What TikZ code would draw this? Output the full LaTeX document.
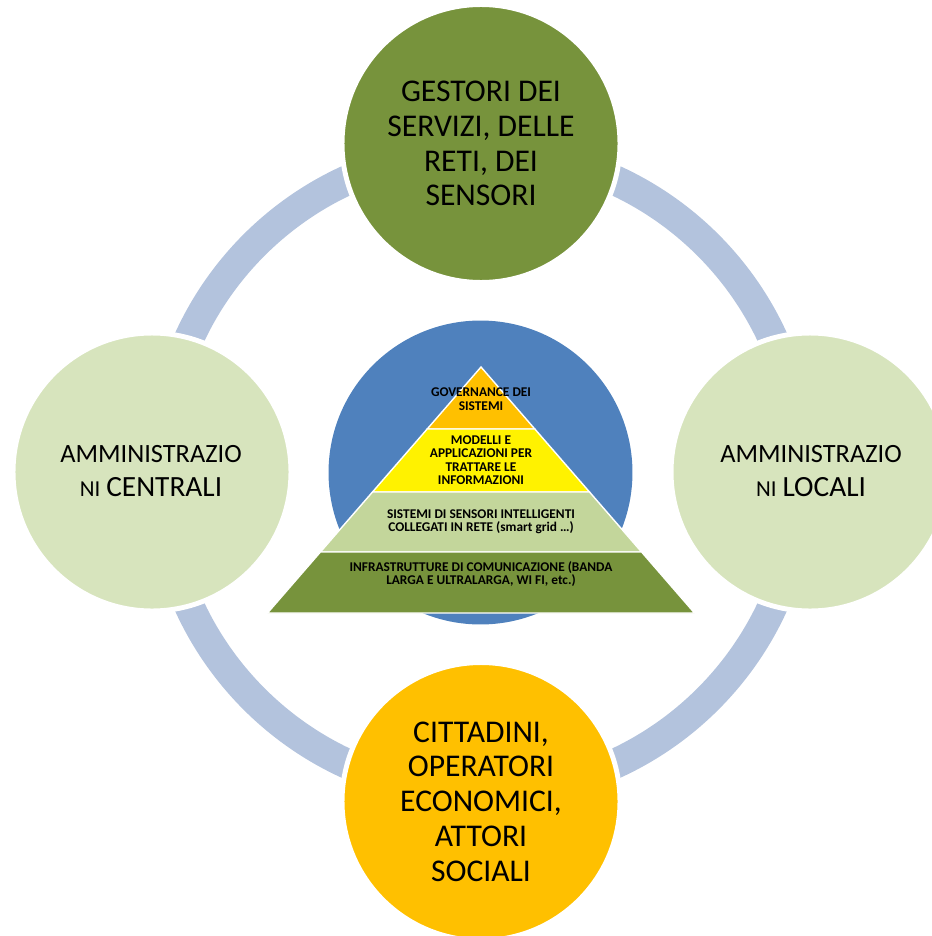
\documentclass[tikz,border=0pt]{standalone}
\usepackage{fontspec}
\setmainfont{Carlito}
\definecolor{ringblue}{HTML}{B3C3DD}
\definecolor{darkgreen}{HTML}{77933C}
\definecolor{palegreen}{HTML}{D7E4BD}
\definecolor{midgreen}{HTML}{C3D69B}
\definecolor{amber}{HTML}{FFC000}
\definecolor{coreblue}{HTML}{4F81BD}
\tikzset{
  bubble/.style={circle,draw=white,line width=2.8pt,minimum size=5.56cm,inner sep=0pt,align=center,
    font=\fontsize{18}{19.8}\selectfont},
  admin/.style={align=center,inner sep=0pt,font=\fontsize{15}{19.3}\selectfont},
  layer/.style={draw=white,line width=0.8pt},
  tier/.style={align=center,inner sep=0pt,font=\bfseries\fontsize{7.6}{7.6}\selectfont}
}
\newcommand{\smallni}{{\fontsize{13}{19.3}\selectfont NI}}
\begin{document}
\begin{tikzpicture}[x=0.02cm,y=-0.02cm]
\useasboundingbox (0,0) rectangle (932,936);
\clip (0,0) rectangle (932,936);
% ring behind the four actors
\draw[ringblue,line width=0.6cm] (481,472) circle (6.42cm);
\node[bubble,fill=darkgreen] (gestori) at (481,143.5) {GESTORI DEI\\SERVIZI, DELLE\\RETI, DEI\\SENSORI};
\node[bubble,fill=amber] (cittadini) at (481,801.5) {CITTADINI,\\OPERATORI\\ECONOMICI,\\ATTORI\\SOCIALI};
\node[bubble,fill=palegreen] (centrali) at (152,472) {};
\node[bubble,fill=palegreen] (locali) at (810,472) {};
\node[admin] (centralitxt) at (151,471) {AMMINISTRAZIO\\\smallni{} {\fontsize{16.7}{19.3}\selectfont CENTRALI}};
\node[admin] (localitxt) at (811,471) {AMMINISTRAZIO\\\smallni{} {\fontsize{16.7}{19.3}\selectfont LOCALI}};
% pyramid on the blue disc
\node[circle,fill=coreblue,minimum size=6.08cm,inner sep=0pt] (core) at (480.5,472.5) {};
\fill[layer,fill=amber] (481,367) -- (534.8,429) -- (427.2,429) -- cycle;
\fill[layer,fill=yellow] (427.2,429) -- (534.8,429) -- (589.5,492) -- (372.5,492) -- cycle;
\fill[layer,fill=midgreen] (372.5,492) -- (589.5,492) -- (641.6,552) -- (320.4,552) -- cycle;
\fill[layer,fill=darkgreen] (320.4,552) -- (641.6,552) -- (694.5,613) -- (267.5,613) -- cycle;
\node[tier] (governance) at (481,399) {GOVERNANCE DEI\\SISTEMI};
\node[tier] (modelli) at (481,460) {MODELLI E\\APPLICAZIONI PER\\TRATTARE LE\\INFORMAZIONI};
\node[tier] (sensori) at (481,522) {SISTEMI DI SENSORI INTELLIGENTI\\COLLEGATI IN RETE (smart grid \dots)};
\node[tier] (infra) at (481,574) {INFRASTRUTTURE DI COMUNICAZIONE (BANDA\\LARGA E ULTRALARGA, WI FI, etc.)};
\end{tikzpicture}
\end{document}
